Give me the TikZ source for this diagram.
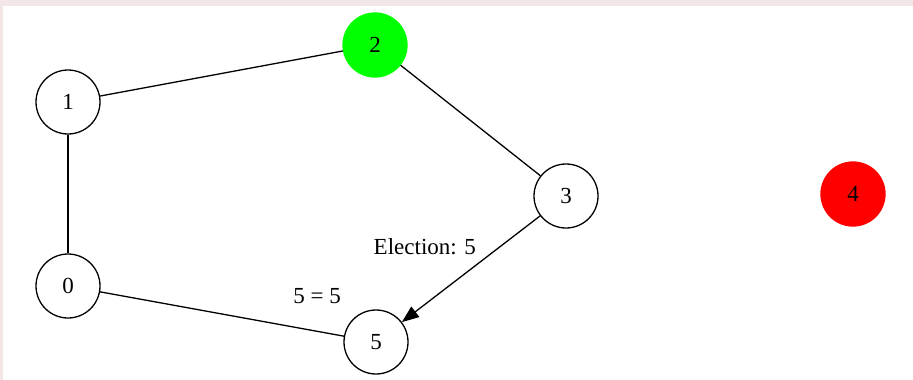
\documentclass[tikz,border=0pt]{standalone}
\usepackage{fontspec}
\setmainfont{Liberation Serif}
\usetikzlibrary{arrows.meta,positioning}
\definecolor{frame}{RGB}{242,230,230}
\tikzset{
  proc/.style={circle,draw,line width=1.3pt,minimum size=64pt,inner sep=0pt,font=\fontsize{23}{27}\selectfont},
  green proc/.style={proc,draw=green,fill=green},
  red proc/.style={proc,draw=red,fill=red},
  link/.style={line width=1.3pt},
  msg/.style={link,-{Triangle[length=17pt,width=13pt]}},
  lbl/.style={font=\fontsize{23}{27}\selectfont}
}
\begin{document}
\begin{tikzpicture}[x=1pt,y=-1pt]
  % frame
  \fill[frame] (0,0) rectangle (913,380);
  \fill[white] (3,6) rectangle (913,380);
  \useasboundingbox (0,0) rectangle (913,380);
  % processes
  \node[proc] (n1) at (68,102) {1};
  \node[green proc] (n2) at (375,45) {2};
  \node[proc] (n3) at (566,196) {3};
  \node[red proc] (n4) at (853,194) {4};
  \node[proc] (n0) at (68,286) {0};
  \node[proc] (n5) at (376,342) {5};
  % ring
  \draw[link] (n1) -- (n2);
  \draw[link] (n2) -- (n3);
  \draw[link] (n1) -- (n0);
  \draw[link] (n0) -- node[lbl,pos=0.89,above=24pt] {5 = 5} (n5);
  \draw[msg] (n3) -- node[lbl,pos=0.45,above left=5pt and -2pt] {Election: 5} (n5);
\end{tikzpicture}
\end{document}
